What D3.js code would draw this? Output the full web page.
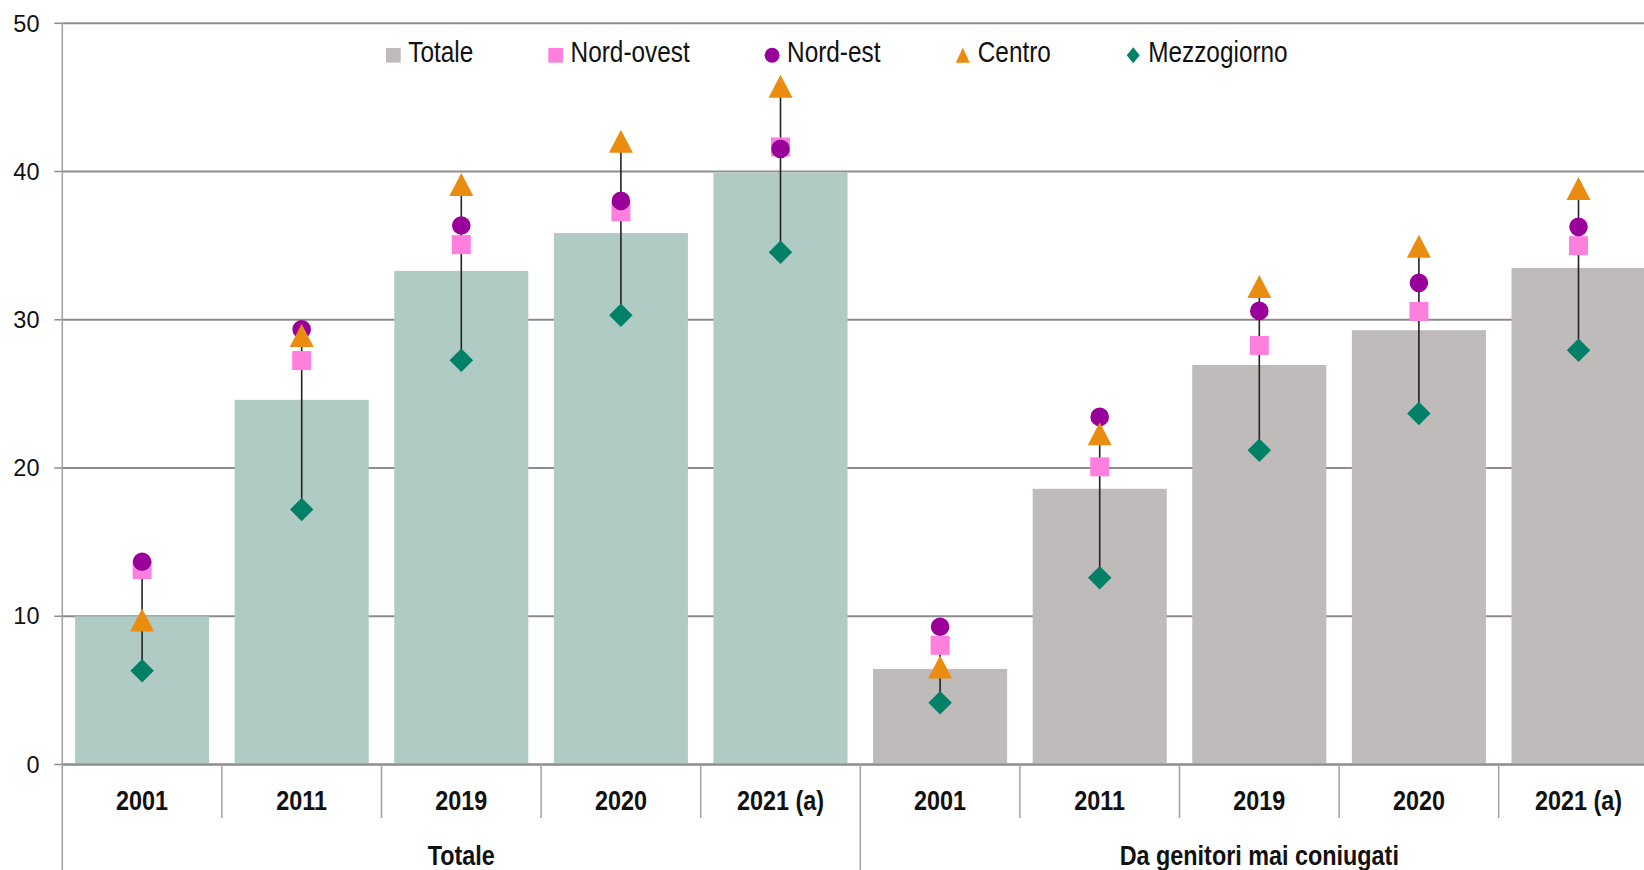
<!DOCTYPE html>
<html>
<head>
<meta charset="utf-8">
<script src="https://cdn.jsdelivr.net/npm/d3@7"></script>
<style>
  html, body { margin: 0; padding: 0; background: #fff; }
  svg { display: block; }
</style>
</head>
<body>
<svg id="chart" width="1644" height="870"></svg>
<script>
// ---------------- DATA ----------------
const groups = ["Totale", "Da genitori mai coniugati"];
const years = ["2001", "2011", "2019", "2020", "2021 (a)"];
const totale      = [10.0, 24.6, 33.3, 35.85, 39.9,  6.45, 18.6, 26.95, 29.3, 33.5];
const nordOvest   = [13.15, 27.25, 35.07, 37.28, 41.66, 8.04, 20.08, 28.27, 30.56, 35.0];
const nordEst     = [13.68, 29.35, 36.36, 38.02, 41.53, 9.29, 23.45, 30.6, 32.49, 36.27];
const centro      = [9.74, 28.94, 39.12, 42.04, 45.75, 6.57, 22.31, 32.24, 34.96, 38.85];
const mezzogiorno = [6.33, 17.2, 27.27, 30.31, 34.56, 4.17, 12.6, 21.2, 23.68, 27.95];
const yTicks = [0, 10, 20, 30, 40, 50];
const seriesNames = ["Totale", "Nord-ovest", "Nord-est", "Centro", "Mezzogiorno"];

// ---------------- SETUP ----------------
const W = 1644, H = 870;
const svg = d3.select("#chart");

const narrowOK = (() => {
  const c = document.createElement("canvas").getContext("2d");
  c.font = "28px 'Liberation Sans Narrow', monospace";
  const a = c.measureText("Nord-ovest 2001").width;
  c.font = "28px monospace";
  const b = c.measureText("Nord-ovest 2001").width;
  return Math.abs(a - b) > 0.5;
})();
const narrowFamily = narrowOK ? "'Liberation Sans Narrow', 'Arial Narrow', sans-serif" : "'Liberation Sans', Arial, sans-serif";
function narrowize(sel, f) {
  if (narrowOK) return;
  sel.each(function () {
    const L = this.getComputedTextLength();
    this.setAttribute("textLength", L * (f || 0.82));
    this.setAttribute("lengthAdjust", "spacingAndGlyphs");
  });
}

const colors = {
  bar1: "#B0CBC4",
  bar2: "#C0BBBB",
  nordOvest: "#FF7FDF",
  nordEst: "#990099",
  centro: "#EA8C10",
  mezzogiorno: "#008066",
  grid: "#8c8c8c",
  axis: "#a0a0a0"
};

const plotLeft = 62.3, step = 159.6;
const cats = [];
groups.forEach(g => years.forEach(yr => cats.push(g + "|" + yr)));

const x = d3.scaleBand().domain(cats)
  .range([plotLeft, plotLeft + step * cats.length])
  .paddingInner(0.16).paddingOuter(0.08);
const y = d3.scaleLinear().domain([0, 50]).range([764.5, 23.3]);

// ---------------- GRID ----------------
svg.append("g").selectAll("line").data(yTicks).join("line")
  .attr("x1", plotLeft).attr("x2", W)
  .attr("y1", d => y(d)).attr("y2", d => y(d))
  .attr("stroke", colors.grid).attr("stroke-width", 2);

svg.append("g").selectAll("line").data(yTicks).join("line")
  .attr("x1", plotLeft - 8).attr("x2", plotLeft)
  .attr("y1", d => y(d)).attr("y2", d => y(d))
  .attr("stroke", colors.grid).attr("stroke-width", 1.5);

svg.append("g").selectAll("text").data(yTicks).join("text")
  .attr("x", 39.5).attr("y", d => y(d)).attr("dy", "0.35em")
  .attr("text-anchor", "end")
  .attr("font-family", "'Liberation Sans', Arial, sans-serif")
  .attr("font-size", 23.5)
  .attr("fill", "#111")
  .text(d => d);

// ---------------- BARS ----------------
svg.append("g").selectAll("rect").data(cats).join("rect")
  .attr("x", d => x(d))
  .attr("width", x.bandwidth())
  .attr("y", (d, i) => y(totale[i]))
  .attr("height", (d, i) => y(0) - y(totale[i]))
  .attr("fill", (d, i) => i < years.length ? colors.bar1 : colors.bar2);

svg.append("line").attr("x1", plotLeft).attr("x2", W).attr("y1", y(0)).attr("y2", y(0))
  .attr("stroke", colors.grid).attr("stroke-width", 2);
svg.append("line").attr("x1", plotLeft).attr("x2", plotLeft).attr("y1", y(50)).attr("y2", H)
  .attr("stroke", colors.axis).attr("stroke-width", 1.5);

const sepIdx = d3.range(1, cats.length + 1);
svg.append("g").selectAll("line").data(sepIdx).join("line")
  .attr("x1", i => plotLeft + x.step() * i).attr("x2", i => plotLeft + x.step() * i)
  .attr("y1", y(0))
  .attr("y2", i => (i % years.length === 0) ? H : 818)
  .attr("stroke", colors.axis).attr("stroke-width", 1.5);

const yl = svg.append("g").selectAll("text").data(cats).join("text")
  .attr("x", d => x(d) + x.bandwidth() / 2)
  .attr("y", 810)
  .attr("text-anchor", "middle")
  .attr("font-family", narrowFamily)
  .attr("font-weight", "bold")
  .attr("font-size", 28.5)
  .attr("fill", "#111")
  .text(d => d.split("|")[1]);
narrowize(yl);

const gl = svg.append("g").selectAll("text").data(groups).join("text")
  .attr("x", (g) => {
    const first = x(g + "|" + years[0]);
    const last = x(g + "|" + years[years.length - 1]);
    return (first + last + x.bandwidth()) / 2;
  })
  .attr("y", 865)
  .attr("text-anchor", "middle")
  .attr("font-family", narrowFamily)
  .attr("font-weight", "bold")
  .attr("font-size", 28.5)
  .attr("fill", "#111")
  .text(d => d);
narrowize(gl);

// ---------------- MARKERS ----------------
const shapes = {
  square: s => `M${-s/2},${-s/2}h${s}v${s}h${-s}Z`,
  circle: s => { const r = s / 2; return `M${-r},0a${r},${r} 0 1,0 ${2*r},0a${r},${r} 0 1,0 ${-2*r},0Z`; },
  triangle: (w, h) => `M0,${-h/2}L${w/2},${h/2}L${-w/2},${h/2}Z`,
  diamond: (w, h) => `M0,${-h/2}L${w/2},0L0,${h/2}L${-w/2},0Z`
};

const cx = d => x(d) + x.bandwidth() / 2;

svg.append("g").selectAll("line").data(cats).join("line")
  .attr("x1", cx).attr("x2", cx)
  .attr("y1", (d, i) => y(d3.max([nordOvest[i], nordEst[i], centro[i], mezzogiorno[i]])))
  .attr("y2", (d, i) => y(d3.min([nordOvest[i], nordEst[i], centro[i], mezzogiorno[i]])))
  .attr("stroke", "#222").attr("stroke-width", 1.6);

const markerSeries = [
  { vals: nordOvest, color: colors.nordOvest, path: shapes.square(19) },
  { vals: nordEst, color: colors.nordEst, path: shapes.circle(18.6) },
  { vals: centro, color: colors.centro, path: shapes.triangle(24, 23) },
  { vals: mezzogiorno, color: colors.mezzogiorno, path: shapes.diamond(23.5, 23.5) }
];
markerSeries.forEach(s => {
  svg.append("g").selectAll("path").data(cats).join("path")
    .attr("d", s.path)
    .attr("transform", (d, i) => `translate(${cx(d)},${y(s.vals[i])})`)
    .attr("fill", s.color);
});

// ---------------- LEGEND ----------------
const legendShapes = [
  { path: shapes.square(14.7), color: colors.bar2 },
  { path: shapes.square(14.7), color: colors.nordOvest },
  { path: shapes.circle(15), color: colors.nordEst },
  { path: shapes.triangle(14, 15), color: colors.centro },
  { path: shapes.diamond(13, 16), color: colors.mezzogiorno }
];
const legendY = 55.3;
let lx = 386;
seriesNames.forEach((name, i) => {
  const g = svg.append("g");
  g.append("path").attr("d", legendShapes[i].path)
    .attr("transform", `translate(${lx + 7.35},${legendY})`)
    .attr("fill", legendShapes[i].color);
  const t = g.append("text")
    .attr("x", lx + 22.3).attr("y", 62.3)
    .attr("font-family", narrowFamily)
    .attr("font-size", 29)
    .attr("fill", "#111")
    .text(name);
  narrowize(t, 0.84);
  const tw = t.node().getBBox().width;
  lx = lx + 22.3 + tw + 75;
});
</script>
</body>
</html>
